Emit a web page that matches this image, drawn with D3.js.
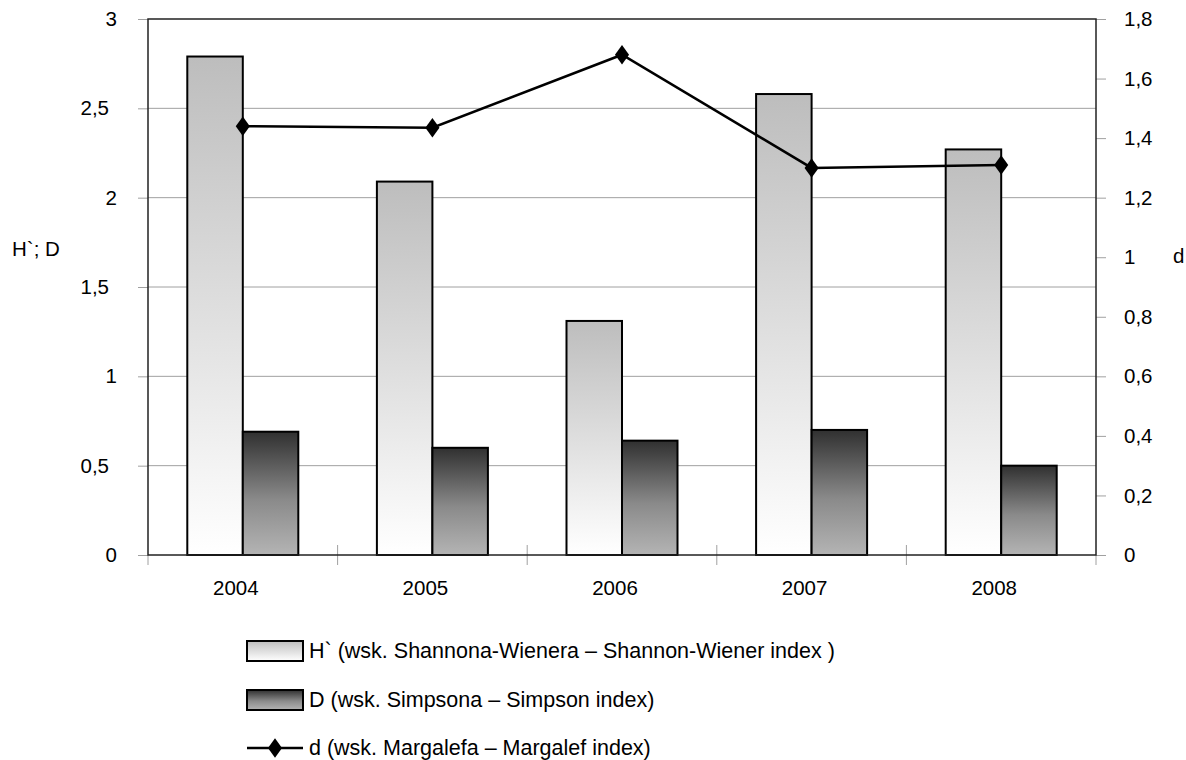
<!DOCTYPE html>
<html>
<head>
<meta charset="utf-8">
<script src="https://cdn.jsdelivr.net/npm/d3@7"></script>
<style>
  html, body { margin: 0; padding: 0; background: #fff; }
  svg { display: block; font-family: "Liberation Sans", Arial, sans-serif; }
</style>
</head>
<body>
<svg id="chart" width="1186" height="760"></svg>
<script>
// Diversity indices by year
const years = ["2004", "2005", "2006", "2007", "2008"];
const shannon = [2.79, 2.09, 1.31, 2.58, 2.27];   // H`
const simpson = [0.69, 0.60, 0.64, 0.70, 0.50];   // D
const margalef = [1.44, 1.435, 1.68, 1.30, 1.31]; // d
const leftTicks = [0, 0.5, 1, 1.5, 2, 2.5, 3];
const rightTicks = [0, 0.2, 0.4, 0.6, 0.8, 1, 1.2, 1.4, 1.6, 1.8];
const legendLabels = [
  "H` (wsk. Shannona-Wienera \u2013 Shannon-Wiener index )",
  "D (wsk. Simpsona \u2013 Simpson index)",
  "d (wsk. Margalefa \u2013 Margalef index)"
];

const svg = d3.select("#chart");
const plot = { left: 148, right: 1096, top: 19, bottom: 555 };
const FONT = 20.5;

const x = d3.scaleBand().domain(years).range([plot.left, plot.right]).padding(0);
const xInner = d3.scaleBand().domain(["H", "D"]).range([0, x.bandwidth()])
  .paddingInner(0).paddingOuter(0.708);
const yLeft = d3.scaleLinear().domain([0, 3]).range([plot.bottom, plot.top]);
const yRight = d3.scaleLinear().domain([0, 1.8]).range([plot.bottom, plot.top]);

const fmt = d => String(d).replace(".", ",");

// Gradients
const defs = svg.append("defs");
const gH = defs.append("linearGradient").attr("id", "gradH")
  .attr("x1", 0).attr("y1", 0).attr("x2", 0).attr("y2", 1);
gH.append("stop").attr("offset", "0%").attr("stop-color", "#bdbdbd");
gH.append("stop").attr("offset", "100%").attr("stop-color", "#ffffff");
const gD = defs.append("linearGradient").attr("id", "gradD")
  .attr("x1", 0).attr("y1", 0).attr("x2", 0).attr("y2", 1);
gD.append("stop").attr("offset", "0%").attr("stop-color", "#303030");
gD.append("stop").attr("offset", "55%").attr("stop-color", "#8a8a8a");
gD.append("stop").attr("offset", "100%").attr("stop-color", "#b4b4b4");

// Gridlines
svg.append("g")
  .selectAll("line").data(leftTicks.slice(1, -1)).join("line")
  .attr("x1", plot.left).attr("x2", plot.right)
  .attr("y1", d => yLeft(d)).attr("y2", d => yLeft(d))
  .attr("stroke", "#a0a0a0").attr("stroke-width", 1);

// Left axis (labels with a decimal part sit a little further left)
const leftAxis = svg.append("g").attr("transform", `translate(${plot.left},0)`)
  .call(d3.axisLeft(yLeft).tickValues(leftTicks).tickFormat(fmt).tickSize(10).tickPadding(21));
leftAxis.select(".domain").remove();
leftAxis.selectAll(".tick line").attr("stroke", "#a0a0a0");
leftAxis.selectAll(".tick text").attr("font-size", FONT).attr("fill", "#000")
  .attr("font-family", "Liberation Sans, Arial, sans-serif")
  .attr("dx", d => Number.isInteger(d) ? 0 : -8);

// Right axis
const rightAxis = svg.append("g").attr("transform", `translate(${plot.right},0)`)
  .call(d3.axisRight(yRight).tickValues(rightTicks).tickFormat(fmt).tickSize(10).tickPadding(18));
rightAxis.select(".domain").remove();
rightAxis.selectAll(".tick line").attr("stroke", "#a0a0a0");
rightAxis.selectAll(".tick text").attr("font-size", FONT).attr("fill", "#000")
  .attr("font-family", "Liberation Sans, Arial, sans-serif");

// Category separator ticks on the x axis
const sepX = years.map(y => x(y)).concat([plot.right]);
svg.append("g").selectAll("line").data(sepX).join("line")
  .attr("x1", d => d).attr("x2", d => d)
  .attr("y1", (d, i) => (i === 0 || i === sepX.length - 1) ? plot.bottom : plot.bottom - 10)
  .attr("y2", plot.bottom + 10)
  .attr("stroke", "#a0a0a0").attr("stroke-width", 1);

// Bars
const groups = svg.append("g").selectAll("g").data(years).join("g")
  .attr("transform", d => `translate(${x(d)},0)`);
groups.append("rect")
  .attr("x", xInner("H")).attr("width", xInner.bandwidth())
  .attr("y", (d, i) => yLeft(shannon[i]))
  .attr("height", (d, i) => yLeft(0) - yLeft(shannon[i]))
  .attr("fill", "url(#gradH)").attr("stroke", "#000").attr("stroke-width", 2);
groups.append("rect")
  .attr("x", xInner("D")).attr("width", xInner.bandwidth())
  .attr("y", (d, i) => yLeft(simpson[i]))
  .attr("height", (d, i) => yLeft(0) - yLeft(simpson[i]))
  .attr("fill", "url(#gradD)").attr("stroke", "#000").attr("stroke-width", 2);

// Plot frame
svg.append("rect")
  .attr("x", plot.left).attr("y", plot.top)
  .attr("width", plot.right - plot.left).attr("height", plot.bottom - plot.top)
  .attr("fill", "none").attr("stroke", "#222").attr("stroke-width", 1.5);

// Margalef line
const lineGen = d3.line()
  .x((d, i) => x(years[i]) + x.bandwidth() / 2)
  .y(d => yRight(d));
svg.append("path").datum(margalef)
  .attr("d", lineGen).attr("fill", "none")
  .attr("stroke", "#000").attr("stroke-width", 2.5);
const diamond = d3.symbol().type(d3.symbolDiamond).size(110);
svg.append("g").selectAll("path").data(margalef).join("path")
  .attr("d", diamond)
  .attr("transform", (d, i) => `translate(${x(years[i]) + x.bandwidth() / 2},${yRight(d)}) scale(1.25,1)`)
  .attr("fill", "#000");

// X labels
svg.append("g").selectAll("text").data(years).join("text")
  .attr("x", d => x(d) + x.bandwidth() / 2 - 7).attr("y", 595)
  .attr("text-anchor", "middle").attr("font-size", FONT).text(d => d);

// Axis titles
svg.append("text").attr("x", 12).attr("y", 256).attr("font-size", FONT).text("H`; D");
svg.append("text").attr("x", 1173).attr("y", 263).attr("font-size", FONT).text("d");

// Legend
const legend = svg.append("g");
const lgX = 247, lgW = 56;
const lgY = [651, 700, 748];
legend.append("rect").attr("x", lgX).attr("y", lgY[0] - 10).attr("width", lgW).attr("height", 20)
  .attr("fill", "url(#gradH)").attr("stroke", "#000").attr("stroke-width", 2);
legend.append("rect").attr("x", lgX).attr("y", lgY[1] - 10).attr("width", lgW).attr("height", 20)
  .attr("fill", "url(#gradD)").attr("stroke", "#000").attr("stroke-width", 2);
legend.append("line").attr("x1", lgX).attr("x2", lgX + lgW)
  .attr("y1", lgY[2]).attr("y2", lgY[2]).attr("stroke", "#000").attr("stroke-width", 2.5);
legend.append("path").attr("d", diamond)
  .attr("transform", `translate(${lgX + lgW / 2},${lgY[2]}) scale(1.25,1)`).attr("fill", "#000");
legend.selectAll("text").data(legendLabels).join("text")
  .attr("x", lgX + lgW + 6).attr("y", (d, i) => lgY[i] + 7)
  .attr("font-size", 21.5).text(d => d);
</script>
</body>
</html>
